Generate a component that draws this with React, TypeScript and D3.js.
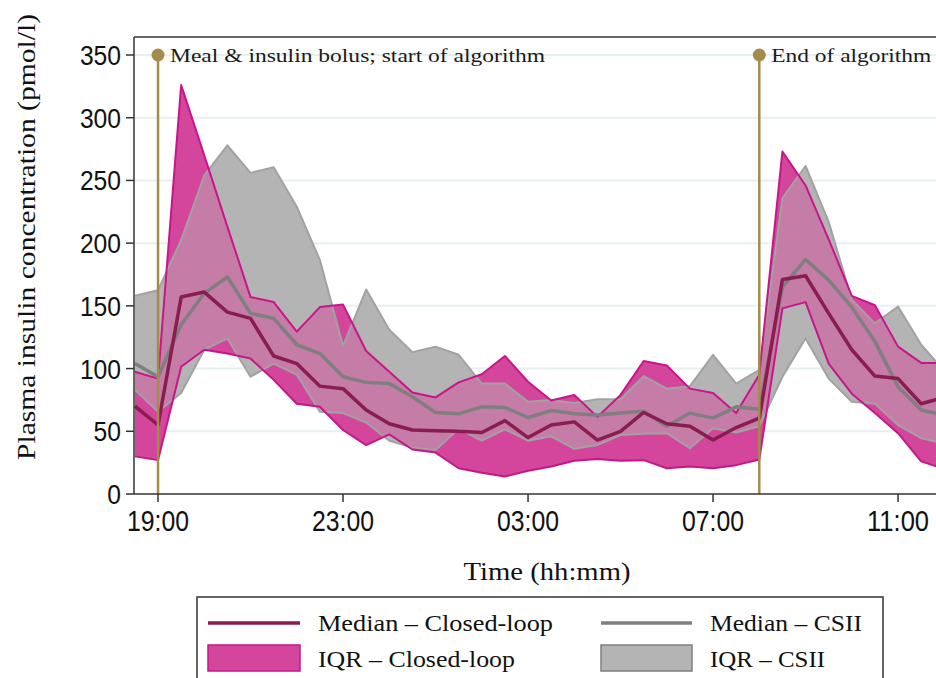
import React from 'react';
import * as d3 from 'd3';

// Half-hourly sampling times, evening to next midday
const timeLabels = [
  '18:30', '19:00', '19:30', '20:00', '20:30', '21:00', '21:30', '22:00', '22:30',
  '23:00', '23:30', '00:00', '00:30', '01:00', '01:30', '02:00', '02:30', '03:00',
  '03:30', '04:00', '04:30', '05:00', '05:30', '06:00', '06:30', '07:00', '07:30',
  '08:00', '08:30', '09:00', '09:30', '10:00', '10:30', '11:00', '11:30', '12:00',
];

// Plasma insulin (pmol/l), closed-loop arm
const closedLoopMedian = [
  70, 55, 157, 161, 145, 140, 110, 104, 86, 84, 67, 56, 51, 50.5, 50, 49, 58.5, 45,
  55, 57.5, 43, 50, 65, 56, 54, 43, 53, 60.5, 171, 174, 144, 115, 94, 92, 72, 77,
];
const closedLoopQ3 = [
  97.5, 92, 326, 270, 213, 157, 153, 129.5, 149, 151, 114, 97.5, 81, 77, 89, 95.5, 110, 89.5,
  74.5, 79, 61.5, 79, 106, 102.5, 84, 80.5, 64.5, 95, 273, 246, 203, 158, 150.5, 117.5, 104.5, 104.5,
];
const closedLoopQ1 = [
  30, 27, 101.5, 115, 112, 108, 91, 72, 69.5, 51, 39, 47.5, 35.5, 33, 20.5, 17, 14, 18.5,
  22, 26.5, 28, 26.5, 27, 20.5, 22, 20.5, 23, 27.5, 148, 153, 104, 80, 64.5, 48.5, 26, 20,
];

// Plasma insulin (pmol/l), CSII arm
const csiiMedian = [
  104, 93.5, 135, 160, 173, 144, 140, 119, 112, 93.5, 89, 88, 77.5, 65, 64, 69.5, 69, 61,
  66.5, 64, 63, 64.5, 66, 54, 64.5, 60.5, 69.5, 67.5, 165, 187, 170.5, 149, 121.5, 85.5, 67, 63,
];
const csiiQ3 = [
  158, 162.5, 202.5, 254, 278, 256, 260.5, 229, 186.5, 118, 163, 131, 113, 117.5, 111, 88, 88, 73.5,
  75, 72.5, 75.5, 75.5, 94, 84, 86, 111, 88, 99, 236, 261.5, 217, 155, 136, 149.5, 119, 98,
];
const csiiQ1 = [
  83, 65.5, 80.5, 115, 124, 93.5, 104, 95, 65.5, 64.5, 57, 42.5, 37, 35, 52, 42.5, 51.5, 42.5,
  46, 36, 39, 47, 48, 48.5, 36.5, 52.5, 49, 54, 93.5, 124, 92, 73.5, 72, 55, 44.5, 40,
];

const xTickLabels = ['19:00', '23:00', '03:00', '07:00', '11:00'];
const yTickValues = [0, 50, 100, 150, 200, 250, 300, 350];

const eventTimes = ['19:00', '08:00'];
const eventLabels = ['Meal & insulin bolus; start of algorithm', 'End of algorithm'];

const legendLabels = ['Median – Closed-loop', 'Median – CSII', 'IQR – Closed-loop', 'IQR – CSII'];

// colours
const PINK_FILL = '#d4469b';
const GREY_FILL = '#b4b4b4';
const MIXED_FILL = '#c57ca6';
const PINK_EDGE = '#c8168a';
const GREY_EDGE = '#a2a2a2';
const PINK_MEDIAN = '#8a1d4f';
const GREY_MEDIAN = '#7f7f7f';
const GOLD = '#a38b4b';
const GRID = '#e6eff1';
const AXIS = '#333333';

const W = 936;
const H = 678;
const PLOT_LEFT = 134;
const PLOT_TOP = 37;
const PLOT_BOTTOM = 494;

const SERIF = '"Liberation Serif", "Times New Roman", serif';
const SANS = '"Liberation Sans", Arial, sans-serif';

const parseTime = (s: string) => {
  const [h, m] = s.split(':').map(Number);
  return new Date(2000, 0, h >= 18 ? 1 : 2, h, m);
};

const times = timeLabels.map(parseTime);

export default function App() {
  const x = d3
    .scaleTime()
    .domain([parseTime('18:30'), parseTime('12:00')])
    .range([134.9, 944.3]);
  const y = d3.scaleLinear().domain([0, 350]).range([PLOT_BOTTOM, 55]);

  const idx = d3.range(times.length);

  const band = (lo: number[], hi: number[]) =>
    d3
      .area<number>()
      .x((i) => x(times[i]))
      .y0((i) => y(lo[i]))
      .y1((i) => y(hi[i]))(idx) as string;

  const line = (v: number[]) =>
    d3
      .line<number>()
      .x((i) => x(times[i]))
      .y((i) => y(v[i]))(idx) as string;

  const pinkBand = band(closedLoopQ1, closedLoopQ3);
  const greyBand = band(csiiQ1, csiiQ3);

  const xTicks = xTickLabels.map(parseTime);

  return (
    <svg
      width={W}
      height={H}
      viewBox={`0 0 ${W} ${H}`}
      style={{ position: 'absolute', left: 0, top: 0, background: '#fff' }}
    >
      <defs>
        <clipPath id="plot-area">
          <rect x={PLOT_LEFT} y={PLOT_TOP} width={W - PLOT_LEFT} height={PLOT_BOTTOM - PLOT_TOP} />
        </clipPath>
        <clipPath id="pink-band">
          <path d={pinkBand} />
        </clipPath>
      </defs>

      {/* horizontal grid */}
      {yTickValues
        .filter((v) => v > 0)
        .map((v) => (
          <line
            key={`g${v}`}
            x1={PLOT_LEFT}
            x2={W}
            y1={y(v)}
            y2={y(v)}
            stroke={GRID}
            strokeWidth={2}
          />
        ))}

      <g clipPath="url(#plot-area)">
        {/* interquartile bands */}
        <path d={pinkBand} fill={PINK_FILL} />
        <path d={greyBand} fill={GREY_FILL} />
        <path d={greyBand} fill={MIXED_FILL} clipPath="url(#pink-band)" />

        {/* band edges */}
        <path d={line(csiiQ3)} fill="none" stroke={GREY_EDGE} strokeWidth={2} strokeLinejoin="round" />
        <path d={line(csiiQ1)} fill="none" stroke={GREY_EDGE} strokeWidth={2} strokeLinejoin="round" />
        <path d={line(closedLoopQ3)} fill="none" stroke={PINK_EDGE} strokeWidth={2} strokeLinejoin="round" />
        <path d={line(closedLoopQ1)} fill="none" stroke={PINK_EDGE} strokeWidth={2} strokeLinejoin="round" />

        {/* medians */}
        <path d={line(csiiMedian)} fill="none" stroke={GREY_MEDIAN} strokeWidth={3.5} strokeLinejoin="round" />
        <path d={line(closedLoopMedian)} fill="none" stroke={PINK_MEDIAN} strokeWidth={3.5} strokeLinejoin="round" />
      </g>

      {/* event markers */}
      {eventTimes.map((t, k) => {
        const ex = x(parseTime(t));
        return (
          <g key={t}>
            <line x1={ex} x2={ex} y1={PLOT_BOTTOM} y2={y(350)} stroke={GOLD} strokeWidth={2.5} />
            <circle cx={ex} cy={y(350)} r={6.5} fill={GOLD} />
            <text
              x={ex + 12}
              y={y(350) + 7}
              fontFamily={SERIF}
              fontSize={19.5}
              fill="#1a1a1a"
              textLength={k === 0 ? 375 : 160}
              lengthAdjust="spacingAndGlyphs"
            >
              {eventLabels[k]}
            </text>
          </g>
        );
      })}

      {/* axes frame */}
      <line x1={PLOT_LEFT} x2={PLOT_LEFT} y1={PLOT_TOP} y2={PLOT_BOTTOM} stroke={AXIS} strokeWidth={1.5} />
      <line x1={PLOT_LEFT} x2={W} y1={PLOT_TOP} y2={PLOT_TOP} stroke={AXIS} strokeWidth={1.5} />
      <line x1={PLOT_LEFT} x2={W} y1={PLOT_BOTTOM} y2={PLOT_BOTTOM} stroke={AXIS} strokeWidth={1.5} />

      {/* y axis ticks and labels */}
      {yTickValues.map((v) => (
        <g key={`y${v}`}>
          <line x1={PLOT_LEFT - 8} x2={PLOT_LEFT} y1={y(v)} y2={y(v)} stroke={AXIS} strokeWidth={1.5} />
          <text
            x={121}
            y={y(v) + 10}
            textAnchor="end"
            fontFamily={SANS}
            fontSize={28}
            fill="#111"
            textLength={13.7 * String(v).length}
            lengthAdjust="spacingAndGlyphs"
          >
            {v}
          </text>
        </g>
      ))}

      {/* x axis ticks and labels */}
      {xTicks.map((t, k) => (
        <g key={`x${k}`}>
          <line x1={x(t)} x2={x(t)} y1={PLOT_BOTTOM} y2={PLOT_BOTTOM + 8} stroke={AXIS} strokeWidth={1.5} />
          <text
            x={x(t)}
            y={531}
            textAnchor="middle"
            fontFamily={SANS}
            fontSize={30}
            fill="#111"
            textLength={62}
            lengthAdjust="spacingAndGlyphs"
          >
            {d3.timeFormat('%H:%M')(t)}
          </text>
        </g>
      ))}

      {/* axis titles */}
      <text
        x={547}
        y={580}
        textAnchor="middle"
        fontFamily={SERIF}
        fontSize={25}
        fill="#111"
        textLength={167}
        lengthAdjust="spacingAndGlyphs"
      >
        Time (hh:mm)
      </text>
      <text
        transform="translate(35,237) rotate(-90)"
        textAnchor="middle"
        fontFamily={SERIF}
        fontSize={25}
        fill="#111"
        textLength={446}
        lengthAdjust="spacingAndGlyphs"
      >
        Plasma insulin concentration (pmol/l)
      </text>

      {/* legend */}
      <rect x={197} y={597} width={686} height={110} fill="#fff" stroke={AXIS} strokeWidth={1.5} />
      <line x1={208} x2={300} y1={623} y2={623} stroke={PINK_MEDIAN} strokeWidth={3.5} />
      <line x1={601} x2={692} y1={623} y2={623} stroke={GREY_MEDIAN} strokeWidth={3.5} />
      <rect x={208} y={645} width={92} height={26} fill={PINK_FILL} stroke={PINK_EDGE} strokeWidth={1.5} />
      <rect x={601} y={645} width={91} height={26} fill={GREY_FILL} stroke={GREY_MEDIAN} strokeWidth={1.5} />
      {[
        { lx: 318, ly: 631, w: 235 },
        { lx: 710, ly: 631, w: 152 },
        { lx: 318, ly: 667, w: 197 },
        { lx: 710, ly: 667, w: 115 },
      ].map((p, k) => (
        <text
          key={`l${k}`}
          x={p.lx}
          y={p.ly}
          fontFamily={SERIF}
          fontSize={23}
          fill="#111"
          textLength={p.w}
          lengthAdjust="spacingAndGlyphs"
        >
          {legendLabels[k]}
        </text>
      ))}
    </svg>
  );
}
